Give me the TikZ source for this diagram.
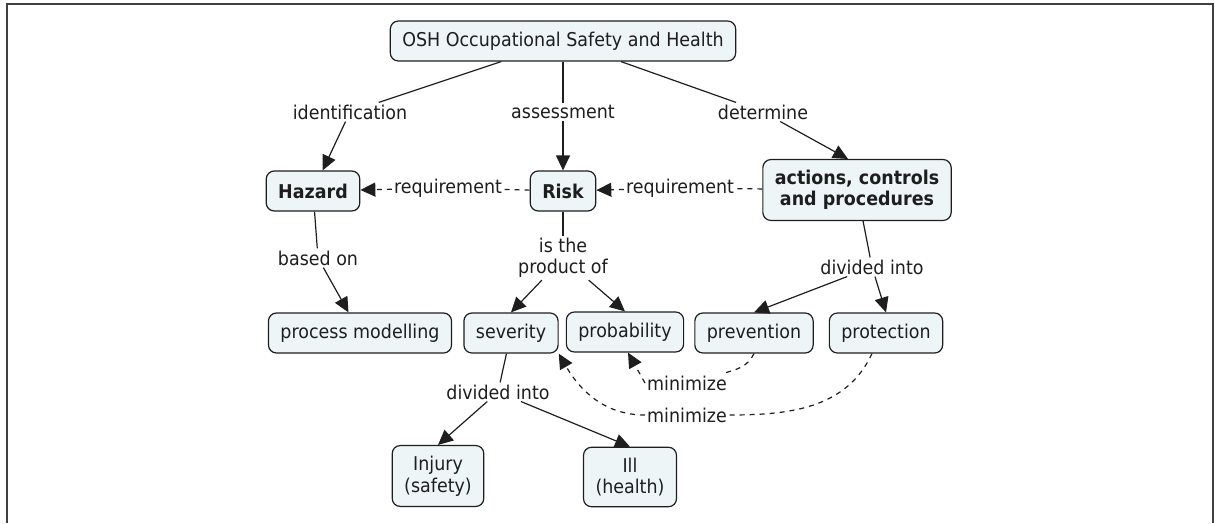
\documentclass[tikz,border=0pt]{standalone}
\usepackage{fontspec}
\setmainfont{DejaVu Sans}[FakeStretch=0.92]
\usetikzlibrary{arrows.meta}

\definecolor{conceptfill}{RGB}{238,245,247}
\definecolor{inkcol}{RGB}{30,30,30}
\newcommand{\cmapsize}{\fontsize{19}{21.5}\selectfont}

\tikzset{
  concept/.style={draw=inkcol, fill=conceptfill, rounded corners=8pt, line width=1.2pt,
    inner xsep=12pt, inner ysep=10.5pt, minimum height=40pt, align=center, text=inkcol},
  keyconcept/.style={concept, font=\cmapsize\bfseries},
  phrase/.style={fill=white, inner sep=2pt, align=center, text=inkcol},
  link/.style={line width=1.2pt, draw=inkcol},
  linkto/.style={link, -{Triangle[length=15pt,width=14pt]}},
  dashlink/.style={link, dash pattern=on 5pt off 5pt},
}

\begin{document}
\begin{tikzpicture}[x=1pt, y=1pt, font=\cmapsize]
    \useasboundingbox (0,0) rectangle (1215,-523);

    % Frame
    \draw[line width=2pt, draw=black!75] (7,-523) -- (7,-4) -- (1213,-4) -- (1213,-523);

    % Concepts
    \node[concept] (osh) at (563,-41) {OSH Occupational Safety and Health};
    \node[keyconcept] (hazard) at (313,-191) {Hazard};
    \node[keyconcept] (risk) at (563,-191) {Risk};
    \node[keyconcept] (actions) at (857,-190) {actions, controls\\and procedures};
    \node[concept] (process) at (360,-333) {process modelling};
    \node[concept] (severity) at (511,-333) {severity};
    \node[concept] (probability) at (625,-332) {probability};
    \node[concept] (prevention) at (754,-333) {prevention};
    \node[concept] (protection) at (886,-333) {protection};
    \node[concept] (injury) at (438,-476) {Injury\\(safety)};
    \node[concept] (ill) at (630,-477) {Ill\\(health)};

    % Linking phrases
    \node[phrase] (identification) at (350,-112) {identification};
    \node[phrase] (assessment) at (563,-112) {assessment};
    \node[phrase] (determine) at (763,-112) {determine};
    \node[phrase] (reqhazard) at (448,-188) {requirement};
    \node[phrase] (reqrisk) at (680,-188) {requirement};
    \node[phrase] (basedon) at (318,-258) {based on};
    \node[phrase] (product) at (563,-258) {is the\\product of};
    \node[phrase] (divactions) at (872,-267) {divided into};
    \node[phrase] (divseverity) at (498,-392) {divided into};
    \node[phrase] (minprob) at (687,-383) {minimize};
    \node[phrase] (minsev) at (687,-415) {minimize};

    % Connectors
    \draw[link] (osh) -- (identification);
    \draw[linkto] (identification) -- (hazard);
    \draw[link] (osh) -- (assessment);
    \draw[linkto] (assessment) -- (risk);
    \draw[link] (osh) -- (determine);
    \draw[linkto] (determine) -- ([xshift=-9pt]actions.north);

    \draw[dashlink] (risk) -- (reqhazard);
    \draw[dashlink, linkto] (reqhazard) -- (hazard);
    \draw[dashlink] (actions) -- (reqrisk);
    \draw[dashlink, linkto] (reqrisk) -- (risk);

    \draw[link] (hazard) -- (basedon);
    \draw[linkto] (basedon) -- (process);
    \draw[link] (risk) -- (product);
    \draw[linkto] (product) -- (severity.north);
    \draw[linkto] (product) -- (probability.north);
    \draw[link] (actions) -- (divactions);
    \draw[linkto] (divactions) -- (prevention.north);
    \draw[linkto] (divactions) -- (protection.north);
    \draw[link] (severity) -- (divseverity);
    \draw[linkto] (divseverity) -- (injury.north);
    \draw[linkto] (divseverity) -- (ill.north);

    % Minimize curves
    \draw[dashlink] (prevention.south) to[out=-115, in=15] (minprob);
    \draw[dashlink, linkto] (minprob.west) -- ([xshift=3pt]probability.south);
    \draw[dashlink] ([xshift=-14pt]protection.south) to[out=-115, in=0] (minsev.east);
    \draw[dashlink, linkto] (minsev.west) to[out=180, in=-60] (severity.south east);
\end{tikzpicture}
\end{document}
